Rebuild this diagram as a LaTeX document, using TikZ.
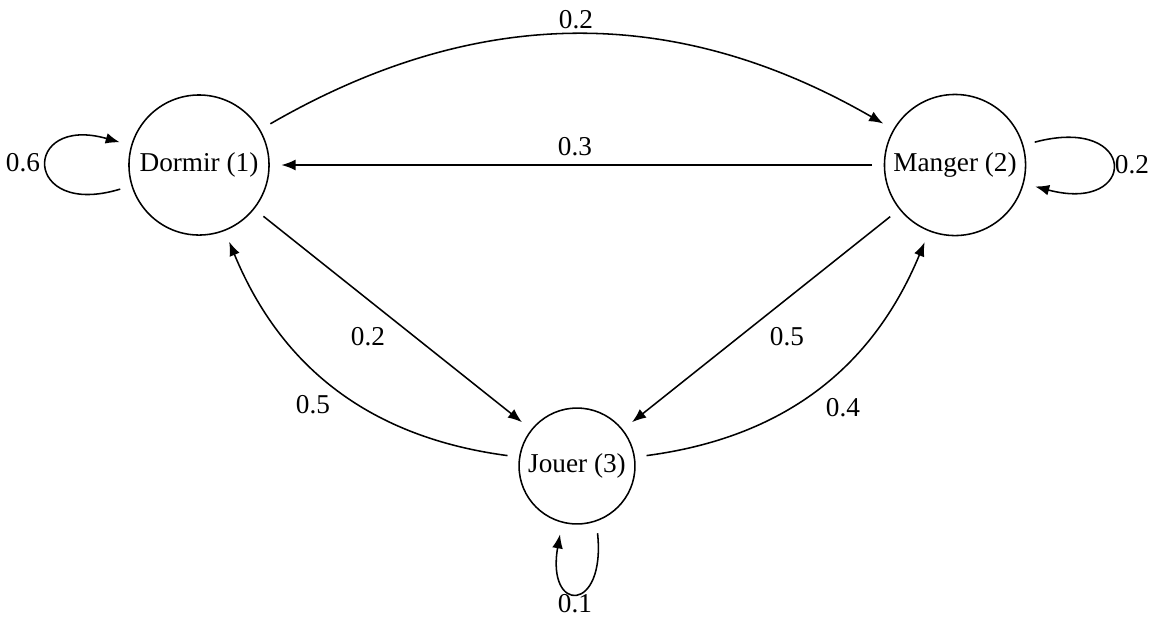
\documentclass[tikz,border=0pt]{standalone}
\usepackage{fontspec}
\setmainfont{Liberation Serif}
\usetikzlibrary{arrows.meta}
\begin{document}
\begin{tikzpicture}[x=0.3891pt,y=-0.3891pt,
  every node/.style={font=\fontsize{10.6}{12}\selectfont},
  state/.style={draw,circle,line width=0.6pt,inner sep=0pt,outer sep=4.8pt},
  conn/.style={line width=0.6pt,-{Latex[length=5.5pt,width=4.2pt]}},
  lab/.style={inner sep=0pt}]
\useasboundingbox (0,0) rectangle (1149,617);
\node[state,minimum size=54.5pt] (D) at (199,165) {Dormir (1)};
\node[state,minimum size=54.9pt] (M) at (955,165) {Manger (2)};
\node[state,minimum size=45.1pt] (J) at (577,466) {Jouer (3)};
% edges
\draw[conn] (D) to[bend left=30] (M);
\draw[conn] (M) -- (D);
\draw[conn] (D) -- (J);
\draw[conn] (M) -- (J);
\draw[conn] (J) to[bend left=30] (D);
\draw[conn] (J) to[bend right=30] (M);
% loops
\draw[conn] (D.197) to[out=197,in=164,looseness=5.6] (D.164);
\draw[conn] (M.16) to[out=15,in=-15,looseness=6.2] (M.-15);
\draw[conn] (J.-73) to[out=-84,in=-100,looseness=5.5] (J.-104);
% labels
\node[lab] (l1) at (576,20) {0.2};
\node[lab] (l2) at (575,147) {0.3};
\node[lab] (l3) at (368,337) {0.2};
\node[lab] (l4) at (787,337) {0.5};
\node[lab] (l5) at (313,405) {0.5};
\node[lab] (l6) at (843,408) {0.4};
\node[lab] (l7) at (23,163) {0.6};
\node[lab] (l8) at (1132,165) {0.2};
\node[lab] (l9) at (575,604) {0.1};
\end{tikzpicture}
\end{document}
